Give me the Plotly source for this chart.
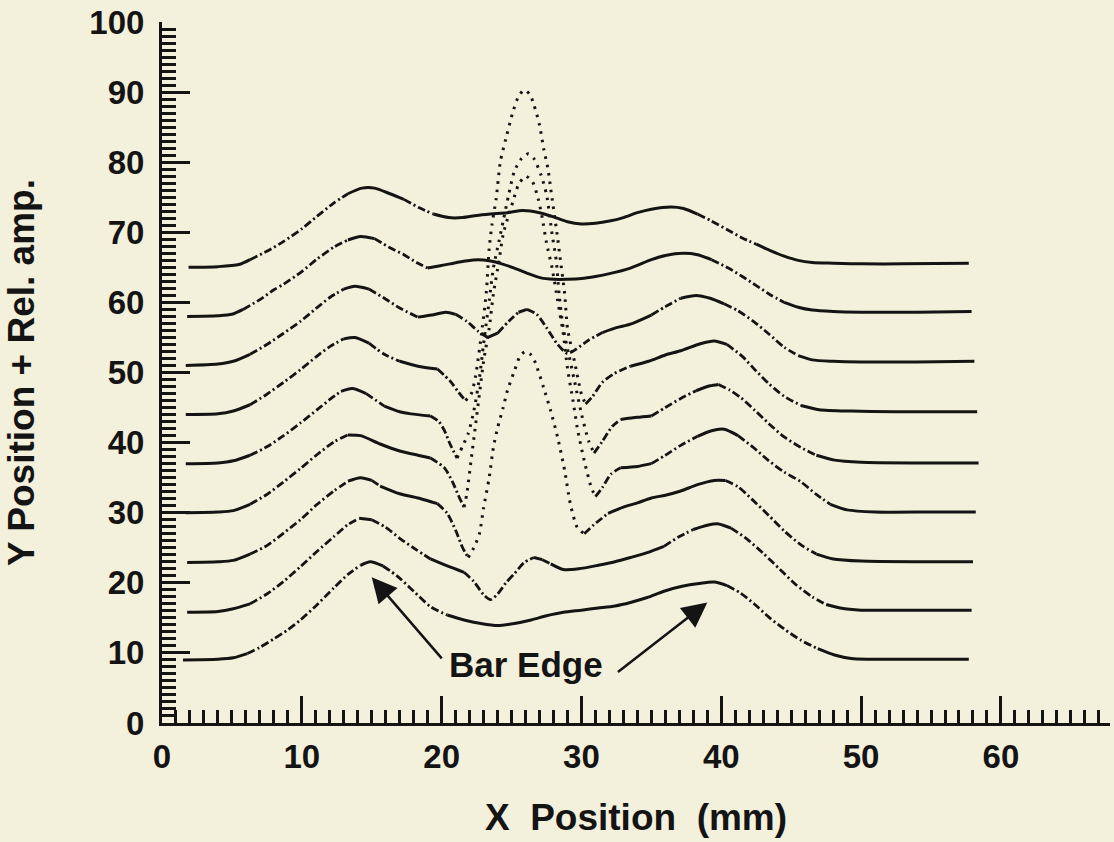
import plotly.graph_objects as go

# ---------------- data ----------------
X_TICK_VALUES = [0, 10, 20, 30, 40, 50, 60]
Y_TICK_VALUES = [0, 10, 20, 30, 40, 50, 60, 70, 80, 90, 100]

c1_x = [1.9, 4, 5.5, 6.3, 7.5, 8.7, 10, 11.1, 12.3, 13.3, 14.3, 15.2, 16.3, 17.3, 18.4, 19.4, 20.5, 21.5, 22.5, 23.5,
        24.7, 25.8, 27, 28, 29, 30, 31, 32, 33, 34, 35, 36.4, 37.3, 38.3, 39.3, 40.5, 41.5, 42.5, 43.5, 44.5,
        45.5, 46.5, 48, 50, 53, 57.7]
c1_y = [65.0, 65.1, 65.4, 66.1, 67.3, 68.7, 70.5, 72.3, 74.2, 75.5, 76.3, 76.3, 75.5, 74.7, 73.5, 72.6, 72.1, 72.1, 72.4, 72.6,
        72.8, 73.1, 72.8, 72.2, 71.5, 71.2, 71.3, 71.6, 72.1, 72.8, 73.3, 73.6, 73.4, 72.6, 71.6, 70.3, 69.2, 68.3, 67.4, 66.6,
        66.0, 65.7, 65.6, 65.5, 65.5, 65.6]

c2_x = [1.8, 4, 5, 5.8, 7, 8, 8.7, 10, 11.1, 12.3, 13.3, 14.2, 15.2, 16.3, 17.3, 18.2, 19, 19.8, 20.6, 21.7, 22.6, 23.5,
        24.3, 25.2, 26.2, 27.1, 28, 29, 30, 31, 32, 33.5, 35, 36, 37.3, 38.3, 39.3, 40.5, 41.5, 42.5, 43.5, 44.5,
        45.5, 46.5, 48, 50, 54, 57.9]
c2_y = [58.0, 58.1, 58.3, 59.0, 60.4, 61.8, 62.6, 64.4, 66.2, 67.9, 68.9, 69.4, 69.1, 67.8, 66.8, 65.7, 64.9, 65.2, 65.5, 65.9, 66.1, 65.9,
        65.5, 64.9, 64.1, 63.5, 63.3, 63.3, 63.4, 63.7, 64.1, 64.9, 66.1, 66.7, 67.0, 66.8, 66.1, 64.9, 63.7, 62.4, 61.1, 60.0,
        59.3, 58.9, 58.7, 58.6, 58.6, 58.7]

c3_x = [1.7, 4, 5.1, 6.3, 7.5, 8.7, 9.9, 11, 12, 13, 13.8, 14.8, 15.9, 17, 18.3, 19.3, 20.3, 21, 21.8, 22.6, 23.3, 24,
        24.8, 25.5, 26.1, 26.8, 27.5, 28.3, 29, 29.6, 30.5, 31.5, 32.5, 33.5, 35, 36, 37.1, 38.2, 39.2, 40.2, 41.2,
        42.3, 43.4, 44.5, 45.5, 46.5, 48, 50, 54, 58.1]
c3_y = [51.0, 51.2, 51.6, 52.6, 54.0, 55.6, 57.3, 59.1, 60.7, 61.9, 62.3, 61.9, 60.6, 59.2, 57.9, 58.2, 58.6, 58.3, 57.3, 55.9, 55.0, 55.6,
        57.3, 58.6, 59.0, 58.3, 56.4, 54.0, 52.7, 53.3, 54.6, 55.7, 56.4, 56.9, 58.2, 59.4, 60.6, 61.0, 60.6, 59.8, 58.8,
        57.3, 55.5, 53.6, 52.4, 51.8, 51.6, 51.5, 51.5, 51.6]

c4_x = [1.7, 4, 5.1, 6.3, 7.5, 8.7, 9.9, 11, 12, 13, 13.8, 14.8, 15.9, 17, 18.3, 19.7, 20.6, 21.2, 21.7, 22.1, 22.4, 22.9,
        23.2, 23.4, 23.6, 23.9, 24.2, 24.6, 25.1, 25.5, 25.9, 26.3, 26.6, 27.0, 27.3, 27.6, 27.8, 28.3, 28.5, 28.8,
        29.0, 29.5, 30.0, 30.3, 30.8, 31.5, 32.3, 33.5, 34.8, 36, 37.1, 38.5, 39.5, 40.4, 41.5, 42.5, 43.4, 44.5,
        45.7, 47, 49.3, 53, 58.3]
c4_y = [44.0, 44.1, 44.5, 45.4, 46.9, 48.6, 50.4, 52.2, 53.7, 54.8, 55.0, 54.2, 52.6, 51.6, 50.9, 50.5, 48.8, 47.2, 46.0, 46.9, 49.2, 56.3,
        61.6, 67.7, 71.1, 74.8, 80.1, 83.4, 87.2, 89.4, 90.3, 89.7, 88.2, 85.3, 81.9, 79.1, 76.2, 69.1, 65.9, 61.2,
        56.3, 51.6, 46.9, 45.5, 46.6, 48.6, 49.8, 50.9, 51.6, 52.5, 53.1, 54.1, 54.5, 54.0, 52.3, 50.2, 48.4, 46.6,
        45.3, 44.7, 44.5, 44.4, 44.4]

c5_x = [1.7, 4, 5.1, 6.3, 7.5, 8.7, 9.9, 11.1, 12.1, 12.8, 13.6, 14.6, 15.9, 17, 17.8, 19.2, 19.8, 20.2, 20.6, 21.1, 21.5,
        21.9, 22.3, 22.7, 23.0, 23.4, 23.7, 24.1, 24.4, 24.8, 25.2, 25.7, 26.2, 26.6, 27.1, 27.5, 27.9, 28.2, 28.4,
        28.7, 29.1, 29.5, 30.0, 30.5, 30.9, 31.5, 32.2, 32.8, 34, 35, 36, 37.1, 38.2, 39.2, 39.8, 40.6, 41.4, 42.4,
        43.4, 44.5, 45.7, 46.8, 48.1, 50, 54, 58.4]
c5_y = [37.0, 37.1, 37.4, 38.2, 39.4, 41.0, 42.8, 44.7, 46.3, 47.3, 47.7, 47.0, 45.2, 44.4, 44.1, 43.8, 43.0, 41.7, 39.8, 37.8, 39.5,
        41.3, 44.5, 49.2, 54.1, 60.2, 64.9, 68.7, 71.6, 75.4, 78.7, 80.5, 81.2, 80.5, 78.2, 75.4, 69.7, 65.9, 61.2,
        56.3, 52.5, 48.8, 44.1, 40.3, 38.5, 40.2, 42.3, 43.3, 43.6, 43.8, 45.0, 46.3, 47.4, 48.1, 48.3, 47.5, 46.4, 44.6,
        42.7, 40.8, 39.3, 38.2, 37.5, 37.2, 37.1, 37.1]

c6_x = [1.7, 4, 5.1, 6.3, 7.5, 8.7, 9.9, 11.1, 12.3, 13.3, 14.2, 15.6, 17, 18.3, 19.2, 20.2, 20.8, 21.3, 21.6, 21.8, 22.1,
        22.4, 22.7, 23.0, 23.4, 23.7, 24.1, 24.4, 24.8, 25.1, 25.5, 26.0, 26.5, 26.9, 27.2, 27.5, 27.9, 28.3, 28.7,
        29.0, 29.4, 29.7, 30.2, 30.7, 31.0, 31.5, 32.1, 32.8, 34, 35, 36, 37.1, 38.3, 39.3, 40.2, 41.2, 42.3, 43.4,
        44.5, 45.7, 46.8, 47.8, 49, 51, 55, 58.2]
c6_y = [30.0, 30.1, 30.3, 31.2, 32.6, 34.4, 36.3, 38.3, 40.1, 41.1, 41.0, 39.8, 38.8, 38.2, 37.8, 36.4, 34.3, 32.0, 30.8, 32.7, 37.4,
        42.1, 46.9, 51.6, 56.3, 61.2, 65.9, 69.7, 72.5, 74.4, 76.8, 78.0, 77.2, 74.8, 72.0, 68.5, 64.9, 60.2, 55.5,
        50.6, 45.9, 42.1, 37.4, 33.6, 32.3, 33.6, 35.5, 36.4, 36.6, 37.0, 38.2, 39.6, 40.9, 41.7, 41.9, 41.0, 39.3, 37.4,
        35.8, 34.4, 32.6, 31.2, 30.4, 30.1, 30.1, 30.1]

c7_x = [1.8, 4, 5.1, 6.3, 7.5, 8.7, 9.9, 11.1, 12.3, 13.3, 14.2, 15.0, 15.6, 17, 18.5, 19.7, 20.4, 21.0, 21.5, 21.9, 22.3,
        22.7, 23.0, 23.4, 23.7, 24.0, 24.4, 24.7, 25.2, 25.6, 26.0, 26.4, 26.7, 27.3, 27.8, 28.3, 28.8, 29.2, 29.7,
        30.2, 30.9, 31.9, 33, 34, 35, 36, 37.1, 38.3, 39.5, 40.3, 41.2, 42.2, 43.4, 44.5, 45.7, 46.8, 48, 50, 54, 58]
c7_y = [22.9, 23.0, 23.2, 24.1, 25.3, 27.1, 29.0, 31.2, 33.1, 34.5, 35.0, 34.6, 33.8, 32.7, 32.0, 31.3, 29.9, 27.5, 25.0, 23.6, 25.0,
        27.0, 30.7, 35.0, 39.3, 42.1, 45.0, 47.4, 50.2, 52.3, 53.0, 52.5, 51.4, 47.8, 44.5, 40.7, 36.0, 31.3, 27.9,
        27.0, 28.3, 29.9, 30.8, 31.4, 32.1, 32.5, 33.1, 34.0, 34.6, 34.6, 33.7, 31.9, 29.6, 27.4, 25.4, 24.1, 23.4, 23.1, 23.0, 23.0]

c8_x = [1.8, 4, 5.1, 6.3, 7.5, 8.7, 9.9, 11.1, 12.3, 13.3, 14.1, 15.0, 16, 17.1, 18.2, 19.2, 20.4, 21.6, 22.3, 23.0, 23.5,
        24.0, 24.6, 25.2, 25.9, 26.6, 27.2, 27.8, 28.7, 29.8, 31.2, 32.4, 33.5, 34.7, 35.9, 37, 38, 39, 39.8, 40.7,
        41.8, 43, 44.2, 45.3, 46.5, 47.5, 48.5, 50, 54, 57.9]
c8_y = [15.8, 15.9, 16.3, 17.0, 18.4, 20.2, 22.3, 24.5, 26.6, 28.3, 29.2, 29.0, 27.9, 26.2, 24.7, 23.4, 22.4, 21.5, 20.2, 18.3, 17.6,
        18.4, 20.0, 21.3, 22.9, 23.6, 23.3, 22.7, 21.9, 22.0, 22.5, 23.0, 23.6, 24.3, 25.2, 26.6, 27.6, 28.2, 28.4, 27.8,
        26.3, 24.2, 21.9, 19.8, 18.0, 16.9, 16.4, 16.1, 16.1, 16.1]

c9_x = [1.5, 4, 5.1, 6.1, 7.0, 8, 9, 9.9, 11, 12.3, 13.3, 14.2, 14.9, 15.8, 16.8, 18, 19.2, 20.4, 21.6, 22.8, 24, 25.2,
        26.4, 27.5, 28.7, 30, 31.2, 32.4, 33.5, 34.7, 35.9, 37.2, 38.4, 39.5, 40.4, 41.4, 42.4, 43.4, 44.5, 45.7,
        46.9, 48.1, 49.3, 50.5, 54, 57.7]
c9_y = [9.0, 9.1, 9.3, 9.9, 10.8, 12.0, 13.3, 14.7, 16.7, 19.3, 21.2, 22.5, 23.0, 22.4, 21.0, 18.8, 16.6, 15.4, 14.7, 14.2, 13.9, 14.2,
        14.7, 15.3, 15.8, 16.1, 16.4, 16.7, 17.2, 17.9, 18.8, 19.5, 19.9, 20.1, 19.6, 18.5, 16.9, 15.1, 13.4, 11.8,
        10.6, 9.7, 9.2, 9.1, 9.1, 9.1]

CURVES = [(c1_x, c1_y), (c2_x, c2_y), (c3_x, c3_y), (c4_x, c4_y), (c5_x, c5_y),
          (c6_x, c6_y), (c7_x, c7_y), (c8_x, c8_y), (c9_x, c9_y)]

# ---------------- style ----------------
BG = "#f3f0dc"
INK = "#141414"
FONT = "Liberation Sans, Arial, Helvetica, sans-serif"
NBSP = "\u00a0"
# x-ranges drawn as sparse dots (steep centre peaks), per curve index
DOTTED_SPANS = {3: (21.7, 30.3), 4: (21.1, 30.9), 5: (21.6, 31.0), 6: (21.9, 30.2)}
SLOPE_LIMIT = 0.9
DASHES = {"solid": "solid", "dash": "8px,3px,2px,3px", "dot": "2.5px,6px"}
WIDTHS = {"solid": 3.0, "dash": 2.8, "dot": 3.0}

fig = go.Figure()

for idx, (xs, ys) in enumerate(CURVES):
    span = DOTTED_SPANS.get(idx)
    styles = []
    for i in range(len(xs) - 1):
        x0, x1 = xs[i], xs[i + 1]
        if span and x0 >= span[0] - 1e-9 and x1 <= span[1] + 1e-9:
            styles.append("dot")
        else:
            slope = abs((ys[i + 1] - ys[i]) / (x1 - x0))
            styles.append("dash" if slope > SLOPE_LIMIT else "solid")
    start = 0
    for i in range(1, len(styles) + 1):
        if i == len(styles) or styles[i] != styles[start]:
            st = styles[start]
            fig.add_trace(go.Scatter(
                x=xs[start:i + 1], y=ys[start:i + 1], mode="lines",
                line=dict(color=INK, width=WIDTHS[st], dash=DASHES[st],
                          shape="spline", smoothing=0.7),
                hoverinfo="skip", showlegend=False))
            start = i

tick_font = dict(family=FONT, size=33, color=INK, weight="bold")
title_font = dict(family=FONT, size=37, color=INK, weight="bold")

x_major = list(range(0, 66, 5))
y_major = list(range(0, 101, 5))

fig.update_xaxes(
    range=[0, 67.8], showline=True, linecolor=INK, linewidth=3, mirror=False,
    showgrid=False, zeroline=False,
    tickmode="array", tickvals=x_major,
    ticktext=[str(v) if v in X_TICK_VALUES else "" for v in x_major],
    ticks="inside", ticklen=27, tickwidth=2.5, tickcolor=INK,
    minor=dict(tickmode="array", tickvals=list(range(0, 68)), ticks="inside",
               ticklen=13, tickwidth=2.5, tickcolor=INK, showgrid=False),
    tickfont=tick_font, ticklabelstandoff=2,
    title=dict(text="X" + NBSP * 2 + "Position" + NBSP * 2 + "(mm)", font=title_font, standoff=31),
)
fig.update_yaxes(
    range=[0, 100], showline=True, linecolor=INK, linewidth=3,
    showgrid=False, zeroline=False,
    tickmode="array", tickvals=y_major,
    ticktext=[str(v) if v in Y_TICK_VALUES else "" for v in y_major],
    ticks="inside", ticklen=28, tickwidth=3, tickcolor=INK,
    minor=dict(tickmode="array", tickvals=list(range(0, 101)), ticks="inside",
               ticklen=14, tickwidth=3, tickcolor=INK, showgrid=False),
    tickfont=tick_font, ticklabelstandoff=8,
    title=dict(text="Y Position + Rel. amp.", font=title_font, standoff=44),
)

arrow_style = dict(showarrow=True, arrowhead=2, arrowsize=2.0, arrowwidth=2.5,
                   arrowcolor=INK, axref="x", ayref="y", text="", standoff=0, startstandoff=0)
fig.add_annotation(x=15.0, y=20.8, ax=20.1, ay=9.0, **arrow_style)
fig.add_annotation(x=39.0, y=17.2, ax=32.5, ay=7.1, **arrow_style)
fig.add_annotation(x=26.0, y=8.3, text="Bar Edge", showarrow=False,
                   font=dict(family=FONT, size=35, color=INK, weight="bold"))

fig.update_layout(
    width=1114, height=842,
    margin=dict(l=162, r=4, t=20, b=119),
    paper_bgcolor=BG, plot_bgcolor=BG,
    showlegend=False,
)

fig.write_html("out.html", config={"displayModeBar": False},
               post_script="document.body.style.margin='0px';")
